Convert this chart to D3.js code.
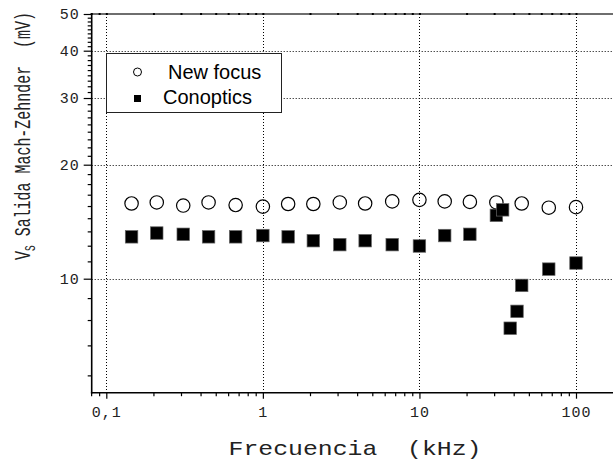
<!DOCTYPE html>
<html>
<head>
<meta charset="utf-8">
<script src="https://cdn.jsdelivr.net/npm/d3@7"></script>
<style>
  html, body { margin: 0; padding: 0; background: #fff; overflow: hidden; }
  svg { display: block; }
</style>
</head>
<body>
<svg id="chart" width="613" height="460"></svg>
<script>
// Frequencies (kHz) and Mach-Zehnder output voltage (mV) for each detector
const freqNewFocus = [0.145, 0.21, 0.31, 0.45, 0.67, 1, 1.45, 2.1, 3.1, 4.5, 6.7, 10, 14.5, 21, 31, 45, 67, 100];
const voltNewFocus = [15.8, 15.9, 15.6, 15.9, 15.65, 15.5, 15.75, 15.75, 15.9, 15.8, 16.0, 16.15, 16.0, 15.95, 15.9, 15.8, 15.4, 15.45];

const freqConoptics = [0.145, 0.21, 0.31, 0.45, 0.67, 1, 1.45, 2.1, 3.1, 4.5, 6.7, 10, 14.5, 21, 31, 34, 38, 42, 45, 67, 100];
const voltConoptics = [12.9, 13.2, 13.1, 12.9, 12.9, 13.0, 12.9, 12.6, 12.3, 12.6, 12.3, 12.2, 13.0, 13.1, 14.7, 15.2, 7.4, 8.2, 9.6, 10.6, 11.0];

const seriesNames = ["New focus", "Conoptics"];

const xTickValues = [0.1, 1, 10, 100];
const xTickLabels = ["0,1", "1", "10", "100"];
const yTickValues = [10, 20, 30, 40, 50];
const yTickLabels = ["10", "20", "30", "40", "50"];
const yGridValues = [10, 20, 30, 40];

const xTitle = "Frecuencia  (kHz)";
const yTitleMain = "V";
const yTitleSub = "S";
const yTitleRest = " Salida Mach-Zehnder  (mV)";

// ---- layout ----
const W = 613, H = 460;
const pLeft = 91.7, pTop = 14, pBottom = 392.7;

const x = d3.scaleLog().domain([0.1, 100]).range([106.3, 576]);
const y = d3.scaleLog().domain([5, 50]).range([pBottom, pTop]);

const MONO = "'Liberation Mono', 'Courier New', monospace";
const SANS = "'Liberation Sans', Arial, sans-serif";

const svg = d3.select("#chart");
svg.append("rect").attr("width", W).attr("height", H).attr("fill", "#fff");

// ---- grid ----
const grid = svg.append("g").attr("stroke", "#000").attr("stroke-width", 1)
  .attr("stroke-dasharray", "1,2").attr("fill", "none");
grid.selectAll("line.v").data(xTickValues).join("line").attr("class", "v")
  .attr("x1", d => Math.round(x(d)) + 0.5).attr("x2", d => Math.round(x(d)) + 0.5)
  .attr("y1", pTop).attr("y2", pBottom);
grid.selectAll("line.h").data(yGridValues).join("line").attr("class", "h")
  .attr("y1", d => Math.round(y(d)) + 0.5).attr("y2", d => Math.round(y(d)) + 0.5)
  .attr("x1", pLeft).attr("x2", W);

// ---- minor tick values ----
const xMinor = x.copy().domain([0.08, 200]).ticks()
  .filter(v => !xTickValues.some(m => Math.abs(m - v) / m < 1e-6))
  .filter(v => x(v) >= pLeft - 1 && x(v) <= W);
const yMinor = [];
[0, 10, 20, 30, 40].forEach(b => {
  for (let k = 1; k <= 8; k++) {
    const v = b + k * 10 / 9;
    if (v >= 5) yMinor.push(v);
  }
});

// ---- bottom axis ----
const gx = svg.append("g").attr("transform", `translate(0,${pBottom})`);
gx.call(d3.axisBottom(x).tickValues(xTickValues)
  .tickFormat((d, i) => xTickLabels[i]).tickSize(6).tickPadding(8));
gx.select(".domain").remove();
gx.selectAll(".tick line").attr("stroke", "#000").attr("stroke-width", 1.2);
gx.selectAll(".tick text").attr("font-family", MONO).attr("font-size", 15)
  .attr("letter-spacing", "1px").attr("fill", "#222");
const gxm = svg.append("g").attr("transform", `translate(0,${pBottom})`);
gxm.call(d3.axisBottom(x).tickValues(xMinor).tickFormat("").tickSize(3.5));
gxm.select(".domain").remove();
gxm.selectAll(".tick line").attr("stroke", "#000").attr("stroke-width", 1.2);

// ---- top border with inner ticks ----
svg.append("line").attr("x1", pLeft).attr("x2", W).attr("y1", pTop).attr("y2", pTop)
  .attr("stroke", "#6e6e6e").attr("stroke-width", 2);
const gt = svg.append("g").attr("transform", `translate(0,${pTop - 1})`);
gt.call(d3.axisBottom(x).tickValues(xMinor.concat(xTickValues)).tickFormat("").tickSize(2));
gt.select(".domain").remove();
gt.selectAll(".tick line").attr("stroke", "#000").attr("stroke-width", 2);

// ---- left axis ----
const gy = svg.append("g").attr("transform", `translate(${pLeft},0)`);
gy.call(d3.axisLeft(y).tickValues(yTickValues)
  .tickFormat((d, i) => yTickLabels[i]).tickSize(8).tickPadding(4));
gy.select(".domain").remove();
gy.selectAll(".tick line").attr("stroke", "#000").attr("stroke-width", 1.2);
gy.selectAll(".tick text").attr("font-family", MONO).attr("font-size", 15)
  .attr("letter-spacing", "1px").attr("fill", "#222");
const gym = svg.append("g").attr("transform", `translate(${pLeft},0)`);
gym.call(d3.axisLeft(y).tickValues(yMinor).tickFormat("").tickSize(4));
gym.select(".domain").remove();
gym.selectAll(".tick line").attr("stroke", "#000").attr("stroke-width", 1.2);

// axis lines
svg.append("line").attr("x1", pLeft).attr("x2", pLeft).attr("y1", pTop - 1).attr("y2", pBottom + 0.8)
  .attr("stroke", "#000").attr("stroke-width", 1.6);
svg.append("line").attr("x1", pLeft - 0.8).attr("x2", W).attr("y1", pBottom).attr("y2", pBottom)
  .attr("stroke", "#000").attr("stroke-width", 1.6);

// ---- data ----
const nf = freqNewFocus.map((f, i) => ({ f, v: voltNewFocus[i] }));
const co = freqConoptics.map((f, i) => ({ f, v: voltConoptics[i] }));

svg.append("g").selectAll("circle").data(nf).join("circle")
  .attr("cx", d => x(d.f)).attr("cy", d => y(d.v)).attr("r", 6.7)
  .attr("fill", "none").attr("stroke", "#000").attr("stroke-width", 1.2);

const sq = 12.5;
svg.append("g").selectAll("rect").data(co).join("rect")
  .attr("x", d => x(d.f) - sq / 2).attr("y", d => y(d.v) - sq / 2)
  .attr("width", sq).attr("height", sq)
  .attr("fill", "#000").attr("stroke", "#666").attr("stroke-width", 0.7);

// ---- legend ----
const lg = svg.append("g");
lg.append("rect").attr("x", 106.5).attr("y", 53.5).attr("width", 175).attr("height", 59)
  .attr("fill", "#fff").attr("stroke", "#222").attr("stroke-width", 1);
lg.append("circle").attr("cx", 137.5).attr("cy", 72).attr("r", 4)
  .attr("fill", "none").attr("stroke", "#000").attr("stroke-width", 1);
lg.append("rect").attr("x", 134).attr("y", 95).attr("width", 7).attr("height", 7).attr("fill", "#000");
lg.append("text").attr("x", 168).attr("y", 79).text(seriesNames[0])
  .attr("font-family", SANS).attr("font-size", 20).attr("fill", "#000");
lg.append("text").attr("x", 163).attr("y", 104).text(seriesNames[1])
  .attr("font-family", SANS).attr("font-size", 20).attr("fill", "#000");

// ---- axis titles ----
svg.append("text")
  .attr("transform", `translate(355,455) scale(1.24,1)`)
  .attr("text-anchor", "middle").attr("font-family", MONO).attr("font-size", 20)
  .attr("fill", "#222").style("white-space", "pre")
  .text(xTitle);

const yt = svg.append("text")
  .attr("transform", `translate(30,136) rotate(-90) scale(0.68,1)`)
  .attr("text-anchor", "middle").attr("font-family", MONO).attr("font-size", 22)
  .attr("fill", "#222").style("white-space", "pre");
yt.append("tspan").text(yTitleMain);
yt.append("tspan").attr("font-size", 14).attr("dy", 5).text(yTitleSub);
yt.append("tspan").attr("dy", -5).text(yTitleRest);
</script>
</body>
</html>
